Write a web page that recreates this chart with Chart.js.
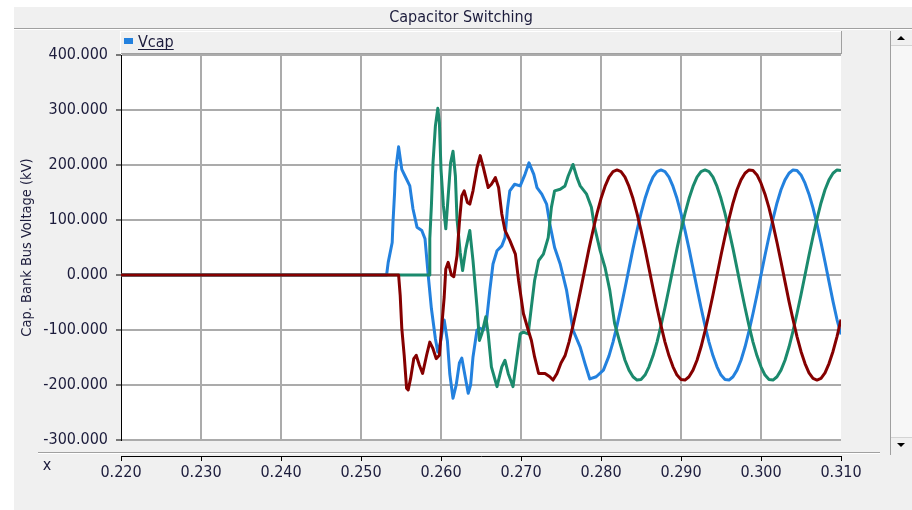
<!DOCTYPE html>
<html>
<head>
<meta charset="utf-8">
<script src="https://cdn.jsdelivr.net/npm/chart.js@4.4.1/dist/chart.umd.min.js"></script>
<style>
html, body { margin: 0; padding: 0; background: #ffffff; overflow: hidden; }
canvas { display: block; }
</style>
</head>
<body>
<canvas id="c" width="912" height="510"></canvas>
<script>
// ---------------- data (time in ms, voltage in kV) ----------------
const chartTitle = 'Capacitor Switching';
const legendLabel = 'Vcap';
const yAxisTitle = 'Cap. Bank Bus Voltage (kV)';
const xAxisName = 'x';
const xMin = 220, xMax = 310, xStep = 10;
const yMin = -300, yMax = 400, yStep = 100;

const blueT = [220, 253.2, 253.4, 253.9, 254.0, 254.2, 254.3, 254.7, 255.1, 255.5, 256.1, 256.5, 257.0, 257.6, 258.0, 258.4, 258.8, 259.3, 259.6, 259.9,
  260.4, 260.8, 261.1, 261.5, 261.9, 262.3, 262.6, 262.9, 263.4, 263.7, 264.0, 264.5, 264.9, 265.3, 265.7, 266.1, 266.5, 267.0, 267.6, 268.0,
  268.3, 268.6, 269.2, 269.9, 270.5, 271.0, 271.6, 272.0, 272.6, 273.2, 273.6, 274.2, 274.9, 275.7, 276.5, 277.4, 278.0, 278.6, 279.4, 280.3,
  281.0, 281.5, 282.0, 282.5, 283.0, 283.5, 284.0, 284.5, 285.0, 285.5, 286.0, 286.5, 287.0, 287.5,
  288.0, 288.5, 289.0, 289.5, 290.0, 290.5, 291.0, 291.5, 292.0, 292.5, 293.0, 293.5, 294.0, 294.5, 295.0, 295.5, 296.0,
  296.5, 297.0, 297.5, 298.0, 298.5, 299.0, 299.5, 300.0,
  300.5, 301.0, 301.5, 302.0, 302.5, 303.0, 303.5, 304.0,
  304.5, 305.0, 305.5, 306.0, 306.5, 307.0, 307.5, 308.0, 308.5, 309.0, 309.5, 310.0];
const blueV = [0, 0, 23, 59, 96, 150, 186, 233, 192, 180, 162, 120, 87, 81, 66, 0, -61, -116, -140, -125,
  -82, -120, -180, -224, -200, -160, -151, -175, -215, -200, -149, -100, -97, -100, -82, -28, 20, 44, 53, 68,
  120, 153, 165, 162, 183, 204, 183, 159, 147, 129, 93, 50, 20, -28, -100, -131, -161, -189, -185, -173,
  -147, -122, -92, -59, -24, 12, 48, 81, 112, 139, 161, 178, 188, 191,
  188, 178, 161, 139, 112, 81, 48, 12, -24, -59, -92, -122, -147, -167, -182, -190, -191,
  -185, -173, -155, -131, -102, -70, -36, 0,
  36, 70, 102, 131, 155, 173, 185, 191,
  190, 182, 167, 147, 122, 92, 59, 24, -12, -48, -81, -108];

const greenT = [220, 258.5, 258.6, 258.8, 259.0, 259.3, 259.6, 259.8, 260.0, 260.3, 260.6, 260.9, 261.2, 261.5, 261.8, 262.0, 262.4, 262.7, 263.1, 263.6,
  264.0, 264.5, 264.8, 265.1, 265.6, 265.9, 266.3, 267.0, 267.6, 268.0, 268.4, 269.0, 269.5, 269.9, 270.3, 270.9, 271.3, 271.7, 272.2, 272.8,
  273.4, 273.8, 274.2, 274.9, 275.5, 275.9, 276.5, 277.0, 277.4, 278.2, 278.8, 279.2, 279.9, 280.5, 281.1, 281.7, 282.4,
  283.0, 283.5, 284.0, 284.5, 285.0, 285.5, 286.0, 286.5, 287.0, 287.5, 288.0, 288.5, 289.0, 289.5, 290.0, 290.5, 291.0, 291.5, 292.0, 292.5,
  293.0, 293.5, 294.0, 294.5, 295.0, 295.5, 296.0, 296.5, 297.0, 297.5, 298.0, 298.5, 299.0, 299.5, 300.0, 300.5, 301.0, 301.5, 302.0, 302.5,
  303.0, 303.5, 304.0, 304.5, 305.0, 305.5, 306.0, 306.5, 307.0, 307.5, 308.0, 308.5, 309.0, 309.5, 310.0];
const greenV = [0, 0, 66, 126, 204, 271, 303, 277, 192, 126, 84, 144, 204, 225, 180, 102, 41, 8, 47, 81,
  26, -58, -119, -107, -76, -107, -167, -203, -167, -155, -179, -203, -149, -107, -104, -107, -58, -10, 26, 38,
  68, 123, 153, 156, 162, 180, 201, 177, 162, 147, 123, 87, 44, 14, -28, -88, -125,
  -155, -173, -185, -191, -190, -182, -167, -147, -122, -92, -59, -24, 12, 48, 81, 112, 139, 161, 178, 188,
  191, 188, 178, 161, 139, 112, 81, 48, 12, -24, -59, -92, -122, -147, -167, -182, -190, -191, -185, -173,
  -155, -131, -102, -70, -36, 0, 36, 70, 102, 131, 155, 173, 185, 191, 190];

const redT = [220, 254.7, 254.9, 255.1, 255.4, 255.7, 255.9, 256.2, 256.6, 256.9, 257.3, 257.7, 258.2, 258.6, 259.0, 259.4, 259.8, 260.1, 260.4, 260.6,
  260.9, 261.3, 261.6, 262.0, 262.3, 262.6, 262.9, 263.3, 263.6, 264.0, 264.5, 264.9, 265.3, 265.9, 266.3, 266.8, 267.2, 267.6, 268.0, 268.6,
  269.3, 269.7, 270.3, 270.9, 271.3, 271.7, 272.2, 273.0, 273.6, 274.0, 274.5, 275.0,
  275.5, 276.0, 276.5, 277.0, 277.5, 278.0, 278.5, 279.0, 279.5, 280.0, 280.5, 281.0, 281.5, 282.0,
  282.5, 283.0, 283.5, 284.0, 284.5, 285.0, 285.5, 286.0, 286.5, 287.0, 287.5, 288.0, 288.5, 289.0, 289.5, 290.0, 290.5,
  291.0, 291.5, 292.0, 292.5, 293.0, 293.5, 294.0, 294.5,
  295.0, 295.5, 296.0, 296.5, 297.0, 297.5, 298.0, 298.5,
  299.0, 299.5, 300.0, 300.5, 301.0, 301.5, 302.0, 302.5, 303.0, 303.5, 304.0, 304.5, 305.0, 305.5, 306.0, 306.5, 307.0,
  307.5, 308.0, 308.5, 309.0, 309.5, 310.0];
const redV = [0, 0, -37, -97, -146, -206, -209, -188, -152, -146, -164, -179, -146, -122, -134, -152, -146, -92, -40, 11,
  23, 0, -3, 35, 96, 144, 153, 132, 129, 153, 195, 217, 195, 159, 165, 177, 159, 111, 81, 63,
  38, -10, -70, -100, -119, -149, -179, -179, -185, -191, -179, -160,
  -147, -122, -92, -59, -24, 12, 48, 81, 112, 139, 161, 178, 188, 191,
  188, 178, 161, 139, 112, 81, 48, 12, -24, -59, -92, -122, -147, -167, -182, -190, -191,
  -185, -173, -155, -131, -102, -70, -36, 0,
  36, 70, 102, 131, 155, 173, 185, 191,
  190, 182, 167, 147, 122, 92, 59, 24, -12, -48, -81, -112, -139, -161, -178, -188, -191,
  -188, -178, -161, -139, -112, -81];

// ---------------- styling ----------------
const FONT = "'DejaVu Sans Condensed', 'DejaVu Sans', sans-serif";
const TEXT = '#1c1c3c';
const GRID = '#ababab';
const BLUE = '#2381de';
const GREEN = '#1b8a6d';
const RED = '#850000';

function toXY(ts, vs) { return ts.map((t, i) => ({ x: t, y: vs[i] })); }

const framePlugin = {
  id: 'frame',
  beforeDraw(chart) {
    const ctx = chart.ctx, a = chart.chartArea, W = chart.width, H = chart.height;
    ctx.save();
    ctx.fillStyle = '#ffffff'; ctx.fillRect(0, 0, W, H);
    ctx.fillStyle = '#f0f0f0'; ctx.fillRect(14, 7, W - 14, H - 7);
    // title bar
    ctx.fillStyle = '#a0a0a0'; ctx.fillRect(14, 28, W - 14, 1);
    ctx.fillStyle = '#ffffff'; ctx.fillRect(14, 29, W - 14, 1);
    ctx.fillStyle = TEXT; ctx.font = '16px ' + FONT;
    ctx.textAlign = 'center'; ctx.textBaseline = 'middle';
    ctx.fillText(chartTitle, 461, 18);
    // legend bar
    ctx.fillStyle = '#ffffff'; ctx.fillRect(a.left - 1, 31, a.right - a.left + 2, 23);
    ctx.fillStyle = '#f0f0f0'; ctx.fillRect(a.left, 32, a.right - a.left, 21);
    ctx.fillStyle = '#a0a0a0';
    ctx.fillRect(a.right, 31, 1, 23);
    ctx.fillRect(a.left, 53, a.right - a.left + 1, 1);
    ctx.fillStyle = BLUE; ctx.fillRect(124, 38, 9, 6);
    ctx.fillStyle = TEXT; ctx.textAlign = 'left'; ctx.textBaseline = 'alphabetic';
    ctx.fillText(legendLabel, 138, 47);
    const lw = ctx.measureText(legendLabel).width;
    ctx.fillRect(138, 49, lw, 1);
    // plot background
    ctx.fillStyle = '#ffffff'; ctx.fillRect(a.left, a.top, a.right - a.left, a.bottom - a.top);
    // separator above x axis
    ctx.fillStyle = '#a0a0a0'; ctx.fillRect(38, 452, 842, 1);
    ctx.fillStyle = '#ffffff'; ctx.fillRect(38, 453, 842, 1);
    // scrollbar
    ctx.fillStyle = '#a0a0a0'; ctx.fillRect(890, 31, 1, 424);
    ctx.fillStyle = '#f7f7f7'; ctx.fillRect(891, 46, 21, 391);
    ctx.fillStyle = '#d4d4d4'; ctx.fillRect(891, 45, 21, 1); ctx.fillRect(891, 437, 21, 1);
    ctx.fillStyle = '#000000';
    ctx.beginPath(); ctx.moveTo(897, 40); ctx.lineTo(905, 40); ctx.lineTo(901, 36); ctx.closePath(); ctx.fill();
    ctx.beginPath(); ctx.moveTo(897, 443); ctx.lineTo(905, 443); ctx.lineTo(901, 447); ctx.closePath(); ctx.fill();
    // x axis name
    ctx.fillStyle = TEXT; ctx.textAlign = 'center'; ctx.textBaseline = 'middle';
    ctx.fillText(xAxisName, 47, 466);
    ctx.restore();
  }
};

const lineStyle = { borderWidth: 3, pointRadius: 0, tension: 0, fill: false, borderJoinStyle: 'round' };

new Chart(document.getElementById('c'), {
  type: 'line',
  data: {
    datasets: [
      Object.assign({ label: legendLabel + ' c', data: toXY(redT, redV), borderColor: RED, backgroundColor: RED }, lineStyle),
      Object.assign({ label: legendLabel + ' b', data: toXY(greenT, greenV), borderColor: GREEN, backgroundColor: GREEN }, lineStyle),
      Object.assign({ label: legendLabel + ' a', data: toXY(blueT, blueV), borderColor: BLUE, backgroundColor: BLUE }, lineStyle)
    ]
  },
  options: {
    responsive: false,
    animation: false,
    devicePixelRatio: 1,
    layout: { padding: { left: 0, top: 55, right: 71, bottom: 23 } },
    plugins: { legend: { display: false }, tooltip: { enabled: false }, title: { display: false } },
    scales: {
      x: {
        type: 'linear', position: 'bottom', min: xMin, max: xMax, weight: 0,
        ticks: { display: false, stepSize: xStep },
        grid: {
          color: c => (c.tick && (c.tick.value === xMin || c.tick.value === xMax)) ? 'rgba(0,0,0,0)' : GRID,
          lineWidth: 2, drawTicks: false
        },
        border: { display: false },
        afterFit: s => { s.height = 16; }
      },
      x2: {
        type: 'linear', position: 'bottom', min: xMin, max: xMax, weight: 1,
        ticks: {
          stepSize: xStep, autoSkip: false, maxRotation: 0, padding: 2, color: TEXT,
          font: { family: FONT, size: 16 },
          callback: v => (v / 1000).toFixed(3)
        },
        grid: { drawOnChartArea: false, drawTicks: true, tickLength: 5, tickColor: '#000000', tickWidth: 1, color: '#000000' },
        border: { display: true, color: '#000000', width: 1 },
        afterFit: s => { s.height = 31; }
      },
      y: {
        type: 'linear', position: 'left', min: yMin, max: yMax,
        ticks: {
          stepSize: yStep, padding: 8, color: TEXT,
          font: { family: FONT, size: 16 },
          callback: v => v.toFixed(3)
        },
        grid: { color: GRID, lineWidth: 2, drawTicks: true, tickLength: 5, tickColor: '#000000', tickWidth: 1 },
        border: { display: true, color: '#000000', width: 1 },
        title: {
          display: true, text: yAxisTitle, color: TEXT,
          font: { family: FONT, size: 14.5 }, padding: { top: 19, bottom: 0 }
        },
        afterFit: s => { s.width = 121; }
      }
    }
  },
  plugins: [framePlugin]
});
</script>
</body>
</html>
